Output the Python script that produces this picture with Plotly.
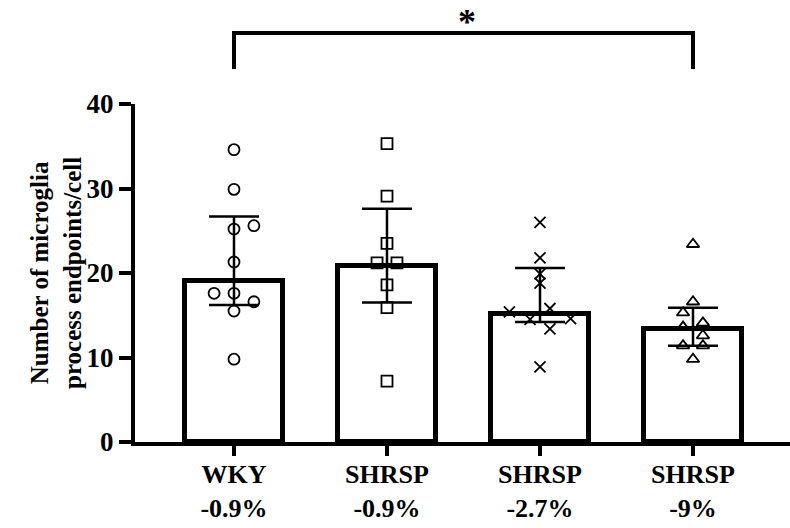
import plotly.graph_objects as go

# ---- data ----
categories = ["WKY<br>-0.9%", "SHRSP<br>-0.9%", "SHRSP<br>-2.7%", "SHRSP<br>-9%"]
bar_values = [19.1, 20.8, 15.2, 13.4]
err_upper = [26.7, 27.6, 20.6, 15.9]
err_lower = [16.2, 16.5, 14.2, 11.4]

wky_pts = [34.6, 29.9, 25.2, 25.6, 21.3, 17.6, 17.6, 16.6, 15.5, 9.8]
shrsp09_pts = [35.3, 29.1, 23.5, 21.2, 21.2, 18.6, 15.9, 7.2]
shrsp27_pts = [26.0, 21.8, 19.9, 18.8, 15.4, 14.5, 15.8, 13.4, 14.6, 8.9]
shrsp9_pts = [23.4, 16.6, 15.3, 14.1, 13.6, 12.6, 11.4, 11.4, 9.8]

# horizontal jitter (in category units)
wky_jit = [0, 0, 0, 0.13, 0, -0.13, 0, 0.13, 0, 0]
shrsp09_jit = [0, 0, 0, -0.065, 0.065, 0, 0, 0]
shrsp27_jit = [0, 0, 0, 0, -0.2, -0.065, 0.065, 0.065, 0.2, 0]
shrsp9_jit = [0, 0, -0.065, 0.065, -0.065, 0.065, -0.065, 0.065, 0]

y_ticks = [0, 10, 20, 30, 40]
y_title = "Number of microglia<br>process endpoints/cell"
sig_label = "*"

FONT = "Liberation Serif"

fig = go.Figure()

xs = list(range(len(categories)))
fig.add_trace(go.Bar(
    x=xs, y=bar_values, width=0.64,
    marker=dict(color="white", line=dict(color="black", width=5)),
    error_y=dict(type="data", symmetric=False,
                 array=[u - m for u, m in zip(err_upper, bar_values)],
                 arrayminus=[m - l for m, l in zip(bar_values, err_lower)],
                 color="black", thickness=2.5, width=25),
    showlegend=False,
))

groups = [
    (wky_pts, wky_jit, "circle-open", 11),
    (shrsp09_pts, shrsp09_jit, "square-open", 11),
    (shrsp27_pts, shrsp27_jit, "x-thin-open", 11),
    (shrsp9_pts, shrsp9_jit, "triangle-up-open", 11),
]
for i, (pts, jit, sym, sz) in enumerate(groups):
    fig.add_trace(go.Scatter(
        x=[i + j for j in jit], y=pts, mode="markers",
        marker=dict(symbol=sym, size=sz, color="black",
                    line=dict(color="black", width=1.8)),
        showlegend=False, cliponaxis=False,
    ))

# significance bracket
fig.add_shape(type="path", xref="x", yref="paper",
              path="M 0 1.1036 L 0 1.210 L 3 1.210 L 3 1.1036",
              line=dict(color="black", width=4))
fig.add_annotation(x=1.52, y=1.243, xref="x", yref="paper", text=sig_label,
                   showarrow=False, font=dict(family=FONT, size=36, color="black", weight="bold"),
                   xanchor="center", yanchor="middle")

# y title
fig.add_annotation(x=-0.1206, y=0.5, xref="paper", yref="paper", text=y_title,
                   textangle=-90, showarrow=False,
                   font=dict(family=FONT, size=25, color="black", weight="bold"),
                   xanchor="center", yanchor="middle")

fig.update_layout(
    width=790, height=528,
    margin=dict(l=135, r=0, t=104, b=86),
    plot_bgcolor="white", paper_bgcolor="white",
    bargap=0,
)
fig.update_xaxes(
    range=[-0.647, 3.634], tickvals=xs, ticktext=categories,
    showline=True, linecolor="black", linewidth=4,
    ticks="outside", ticklen=10, tickwidth=4, tickcolor="black",
    ticklabelstandoff=-4,
    tickfont=dict(family=FONT, size=26, color="black", weight="bold"),
    showgrid=False, zeroline=False, automargin=False,
)
fig.update_yaxes(
    range=[0, 40], tickvals=y_ticks,
    showline=True, linecolor="black", linewidth=4,
    ticks="outside", ticklen=12, tickwidth=4, tickcolor="black",
    tickfont=dict(family=FONT, size=27, color="black", weight="bold"),
    showgrid=False, zeroline=False, automargin=False,
)

fig.write_html("out.html")
